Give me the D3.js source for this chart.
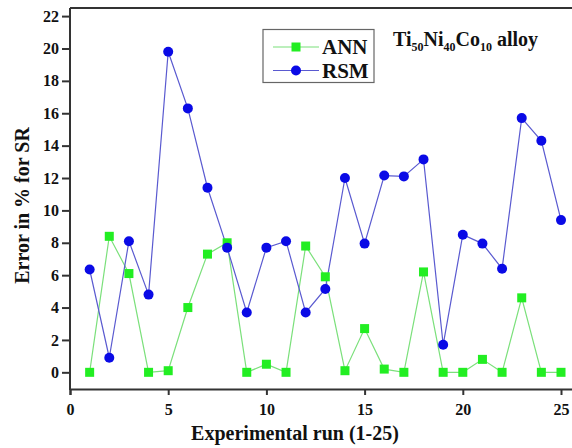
<!DOCTYPE html>
<html><head><meta charset="utf-8">
<script src="https://cdn.jsdelivr.net/npm/d3@7"></script>
<style>html,body{margin:0;padding:0;background:#fff;}svg{display:block;}</style>
</head><body>
<svg id="chart" width="572" height="448"></svg>
<script>
const runs = d3.range(1, 26);
const annValues = [0, 8.4, 6.1, 0, 0.1, 4.0, 7.3, 8.0, 0, 0.5, 0, 7.8, 5.9, 0.1, 2.7, 0.2, 0, 6.2, 0, 0, 0.8, 0, 4.6, 0, 0];
const rsmValues = [6.35, 0.9, 8.1, 4.8, 19.8, 16.3, 11.4, 7.7, 3.7, 7.7, 8.1, 3.7, 5.15, 12.0, 7.95, 12.15, 12.1, 13.15, 1.7, 8.5, 7.95, 6.4, 15.7, 14.3, 9.4];
const xTicks = [0, 5, 10, 15, 20, 25];
const yTicks = [0, 2, 4, 6, 8, 10, 12, 14, 16, 18, 20, 22];

const FONT = "Liberation Serif";
const svg = d3.select("#chart");
const x = d3.scaleLinear().domain([0, 26]).range([70, 70 + 26 * 19.64]);
const y = d3.scaleLinear().domain([-1.03, 22.5]).range([389, 8]);
const axisColor = "#333";

function styleText(sel, size) {
  return sel.style("font-family", FONT).style("font-weight", "bold").style("font-size", size + "px").attr("fill", "#111");
}

// frame top
svg.append("line").attr("x1", x(0)).attr("x2", 572).attr("y1", y(22.5)).attr("y2", y(22.5))
  .attr("stroke", axisColor).attr("stroke-width", 2);

// axes
const gx = svg.append("g").attr("transform", `translate(0,${y(-1.03)})`)
  .call(d3.axisBottom(x).tickValues(xTicks).tickSize(6).tickPadding(9).tickFormat(d3.format("d")));
const gy = svg.append("g").attr("transform", `translate(${x(0)},0)`)
  .call(d3.axisLeft(y).tickValues(yTicks).tickSize(8).tickPadding(3).tickFormat(d3.format("d")));
[gx, gy].forEach(g => {
  g.attr("font-family", FONT).attr("font-size", 16).attr("font-weight", "bold");
  g.select(".domain").attr("stroke", axisColor).attr("stroke-width", 2);
  g.selectAll(".tick line").attr("stroke", axisColor).attr("stroke-width", 2);
  styleText(g.selectAll(".tick text"), 16);
});
gy.select(".domain").attr("d", `M0,${y(-1.03)+1}V${y(22.5)}`);

// lines
const line = (vals) => d3.line().x((d, i) => x(runs[i])).y(d => y(d))(vals);
svg.append("path").attr("d", line(annValues)).attr("fill", "none").attr("stroke", "#7be07b").attr("stroke-width", 1.2);
svg.append("path").attr("d", line(rsmValues)).attr("fill", "none").attr("stroke", "#5a5ad0").attr("stroke-width", 1.2);

// markers
svg.append("g").selectAll("rect").data(annValues).join("rect")
  .attr("x", (d, i) => x(runs[i]) - 4.5).attr("y", d => y(d) - 4.5)
  .attr("width", 9).attr("height", 9).attr("fill", "#22ee22");
svg.append("g").selectAll("circle").data(rsmValues).join("circle")
  .attr("cx", (d, i) => x(runs[i])).attr("cy", d => y(d)).attr("r", 5).attr("fill", "#0a0ae6");

// axis titles
styleText(svg.append("text").attr("x", 295).attr("y", 440).attr("text-anchor", "middle"), 20)
  .text("Experimental run (1-25)");
styleText(svg.append("text").attr("transform", "translate(29,205.5) rotate(-90)").attr("text-anchor", "middle"), 20)
  .text("Error in % for SR");

// legend
const lg = svg.append("g");
lg.append("rect").attr("x", 263).attr("y", 29.5).attr("width", 111).attr("height", 53)
  .attr("fill", "#fff").attr("stroke", "#666").attr("stroke-width", 1.2);
const legendItems = [
  {name: "ANN", color: "#7be07b", yy: 47, shape: "rect"},
  {name: "RSM", color: "#5a5ad0", yy: 70.5, shape: "circle"}
];
legendItems.forEach(it => {
  lg.append("line").attr("x1", 273).attr("x2", 319).attr("y1", it.yy).attr("y2", it.yy)
    .attr("stroke", it.color).attr("stroke-width", 1.2);
  if (it.shape === "rect") lg.append("rect").attr("x", 296 - 4.5).attr("y", it.yy - 4.5).attr("width", 9).attr("height", 9).attr("fill", "#22ee22");
  else lg.append("circle").attr("cx", 296).attr("cy", it.yy).attr("r", 5).attr("fill", "#0a0ae6");
  styleText(lg.append("text").attr("x", 322).attr("y", it.yy + 7), 21).text(it.name);
});

// annotation
const t = styleText(svg.append("text").attr("x", 393).attr("y", 46), 20);
t.append("tspan").text("Ti");
t.append("tspan").style("font-size", "12px").attr("dy", 5).text("50");
t.append("tspan").attr("dy", -5).text("Ni");
t.append("tspan").style("font-size", "12px").attr("dy", 5).text("40");
t.append("tspan").attr("dy", -5).text("Co");
t.append("tspan").style("font-size", "12px").attr("dy", 5).text("10");
t.append("tspan").attr("dy", -5).text(" alloy");
</script>
</body></html>
